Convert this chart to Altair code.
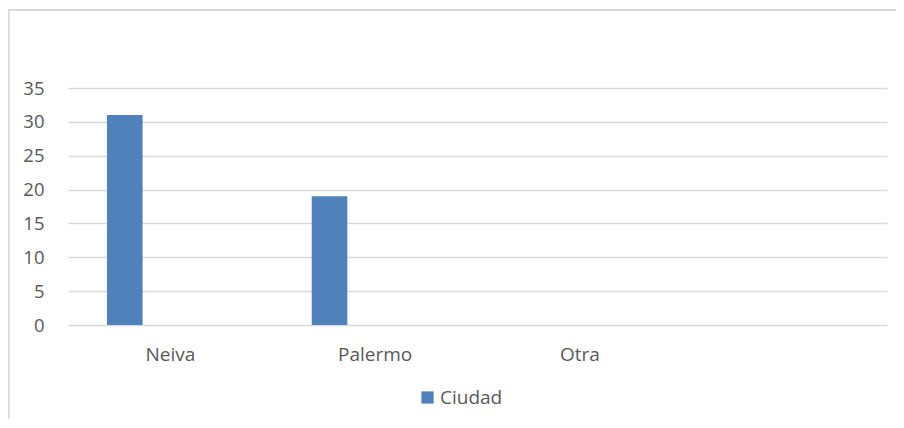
import altair as alt
import pandas as pd

categories = ["Neiva", "Palermo", "Otra", " "]
values = [31, 19, 0, 0]
series_name = "Ciudad"
y_ticks = [0, 5, 10, 15, 20, 25, 30, 35]

df = pd.DataFrame({"cat": categories, "val": values, "serie": [series_name] * len(categories)})

FONT = "Open Sans"
GRID = "#d9d9d9"
TEXT = "#595959"
BLUE = "#4f81bd"

bars = alt.Chart(df).mark_bar(color=BLUE).encode(
    x=alt.X("cat:N", sort=categories, scale=alt.Scale(domain=categories, paddingInner=0, paddingOuter=0),
            axis=alt.Axis(title=None, labelAngle=0, ticks=False, domain=False, grid=False,
                          labelPadding=20, labelFontSize=19, labelColor=TEXT, labelFont=FONT)),
    xOffset=alt.XOffset("serie:N", scale=alt.Scale(domain=[series_name, "_s2", "_s3"],
                                                   paddingInner=0.219, paddingOuter=0.855)),
    y=alt.Y("val:Q", scale=alt.Scale(domain=[0, 35], nice=False),
            axis=alt.Axis(title=None, values=y_ticks, ticks=False, domain=False, grid=True,
                          gridColor=GRID, gridWidth=1.5, labelPadding=24, labelFontSize=18.5,
                          labelColor=TEXT, labelFont=FONT)),
    color=alt.Color("serie:N", scale=alt.Scale(domain=[series_name], range=[BLUE]),
                    legend=alt.Legend(title=None, orient="none", legendX=350, legendY=300,
                                      symbolType="square", symbolSize=150, symbolStrokeWidth=0,
                                      labelFontSize=19, labelColor=TEXT, labelFont=FONT,
                                      labelOffset=3)),
)

border_top = alt.Chart(df).mark_rule(color=GRID, strokeWidth=1.5).encode(
    x=alt.value(-60), x2=alt.value(840), y=alt.value(-78))
border_left = alt.Chart(df).mark_rule(color=GRID, strokeWidth=1.5).encode(
    x=alt.value(-59.5), y=alt.value(-78), y2=alt.value(340))

chart = alt.layer(border_top, border_left, bars).properties(
    width=819, height=237,
    autosize=alt.AutoSizeParams(type="none"),
    padding={"left": 60, "top": 80, "right": 9, "bottom": 94},
).configure_view(stroke=None)

chart.save("out.html", embed_options={"renderer": "svg", "actions": False})
